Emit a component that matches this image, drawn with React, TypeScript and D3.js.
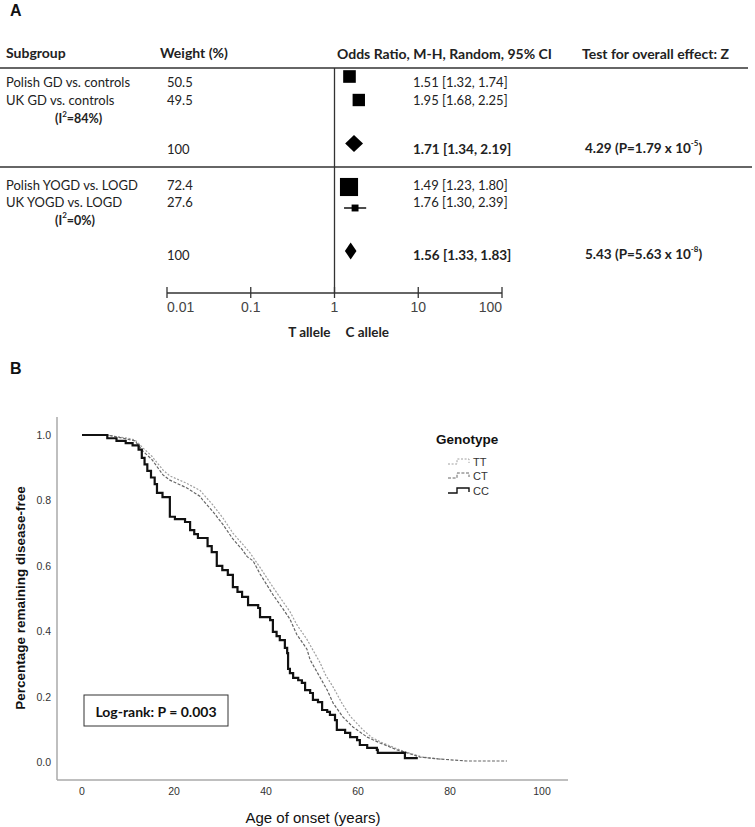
import React from "react";
import * as d3 from "d3";

// ---------- Panel A data ----------
const subgroups = ["Polish GD vs. controls", "UK GD vs. controls", "Polish YOGD vs. LOGD", "UK YOGD vs. LOGD"];
const weights = [50.5, 49.5, 72.4, 27.6];
const orValues = [1.51, 1.95, 1.49, 1.76];
const ciLow = [1.32, 1.68, 1.23, 1.3];
const ciHigh = [1.74, 2.25, 1.8, 2.39];
const groupOR = [1.71, 1.56];
const groupLow = [1.34, 1.33];
const groupHigh = [2.19, 1.83];
const groupI2 = ["84%", "0%"];
const groupZ = ["4.29", "5.43"];
const groupP = ["1.79", "5.63"];
const groupPexp = ["-5", "-8"];
const orTicks = [0.01, 0.1, 1, 10, 100];
const orTickLabels = ["0.01", "0.1", "1", "10", "100"];

// ---------- Panel B data (age, survival) ----------
const ccCurve: [number, number][] = [
  [0, 1.0], [5.5, 0.99], [7.5, 0.982], [9.5, 0.975], [11, 0.968], [12.3, 0.955], [13, 0.93], [13.6, 0.91],
  [14.2, 0.89], [15, 0.87], [15.8, 0.85], [16.3, 0.823], [17.5, 0.81], [19.1, 0.75], [20.2, 0.743], [22.4, 0.734],
  [23.5, 0.709], [24.4, 0.697], [25.2, 0.685], [27.3, 0.66], [28.2, 0.642], [29.3, 0.6], [30.5, 0.587], [31.7, 0.572],
  [32.8, 0.535], [33.8, 0.52], [34.8, 0.505], [36.1, 0.48], [38.3, 0.471], [38.7, 0.443], [40.9, 0.434], [41.5, 0.398],
  [42.3, 0.385], [43.0, 0.373], [44.1, 0.349], [44.6, 0.333], [44.8, 0.285], [45.2, 0.272], [45.9, 0.257], [47.0, 0.25],
  [47.8, 0.242], [48.5, 0.22], [49.6, 0.211], [50.2, 0.19], [51.3, 0.183], [52.2, 0.159], [53.3, 0.153], [53.9, 0.144],
  [55.0, 0.128], [55.4, 0.098], [57.2, 0.089], [58.3, 0.076], [59.8, 0.067], [60.4, 0.052], [62.0, 0.043], [64.1, 0.037],
  [64.3, 0.028], [70.2, 0.012], [73.0, 0.012],
];
const ttCurve: [number, number][] = [
  [0, 1.0], [5.4, 1.0], [8, 0.994], [10, 0.99], [11.5, 0.985], [13.3, 0.96], [15.2, 0.935], [17.6, 0.893], [19.1, 0.875],
  [22.8, 0.852], [25.7, 0.83], [28.5, 0.785], [30.7, 0.745], [32.8, 0.7], [34.8, 0.668], [36.5, 0.64], [38.7, 0.595],
  [41.5, 0.535], [43.7, 0.49], [45.2, 0.46], [46.7, 0.42], [48.9, 0.375], [50.5, 0.335], [51.7, 0.305], [53, 0.265],
  [54.6, 0.229], [56.5, 0.18], [58.3, 0.14], [61.1, 0.098], [63, 0.075], [65.4, 0.058], [69.1, 0.037], [71, 0.028],
  [74, 0.015], [78.5, 0.008],
];
const ctCurve: [number, number][] = [
  [0, 1.0], [5.4, 1.0], [9, 0.99], [11.5, 0.982], [13.3, 0.95], [15.2, 0.925], [17.6, 0.878], [19.1, 0.862], [22.8, 0.838],
  [25.7, 0.812], [26.3, 0.8], [28.5, 0.765], [30.7, 0.725], [32.8, 0.682], [34.8, 0.65], [35.9, 0.628], [37.2, 0.615],
  [38.7, 0.575], [41.5, 0.512], [43.7, 0.468], [45.2, 0.437], [46.7, 0.39], [48.9, 0.345], [49.6, 0.312], [51.7, 0.26],
  [53.3, 0.22], [54.6, 0.18], [56.7, 0.138], [58.9, 0.107], [62, 0.076], [64.8, 0.058], [68.5, 0.037], [70.7, 0.028],
  [73.5, 0.015], [77.8, 0.009], [83.7, 0.003], [92.4, 0.003],
];
const genotypes = ["TT", "CT", "CC"];
const ageTicks = [0, 20, 40, 60, 80, 100];
const survTicks = [0, 0.2, 0.4, 0.6, 0.8, 1.0];

const FA = "Lato, 'Open Sans', sans-serif";
const FB = "'Liberation Sans', Arial, sans-serif";

export default function App() {
  // Panel A scales
  const xOR = d3.scaleLog().domain([0.01, 100]).range([167, 502]);
  const studyY = [82, 100, 185, 202];
  const markY = [76.5, 100, 187, 208];
  const i2Y = [118.5, 220];
  const sumY = [149, 255];
  const diamondY = [143.5, 251];
  const sizeScale = d3.scaleLinear().domain([0, 100]).range([0, 25]);
  const axisY = 293;

  // Panel B scales
  const xAge = d3.scaleLinear().domain([0, 100]).range([82, 542]);
  const yS = d3.scaleLinear().domain([0, 1]).range([762, 435]);
  const step = d3.line<[number, number]>().x((d) => xAge(d[0])).y((d) => yS(d[1])).curve(d3.curveStepAfter);
  const smooth = d3.line<[number, number]>().x((d) => xAge(d[0])).y((d) => yS(d[1])).curve(d3.curveLinear);

  const styles: Record<string, { stroke: string; dash?: string; w: number }> = {
    TT: { stroke: "#a0a0a0", dash: "2,1.6", w: 1.2 },
    CT: { stroke: "#666", dash: "3,1.6", w: 1.2 },
    CC: { stroke: "#111", w: 2.2 },
  };
  const legendY = [462, 476, 491];

  const textA = { fontFamily: FA, fontSize: 13, fill: "#222" } as const;

  return (
    <svg width={755} height={827} style={{ position: "absolute", left: 0, top: 0, background: "#fff" }}>
      {/* ---------------- Panel A ---------------- */}
      <text x={10} y={16} fontFamily={FB} fontWeight="bold" fontSize={16} fill="#111">A</text>
      <g {...textA} fontSize={14} fontWeight="bold" dominantBaseline="central">
        <text x={6} y={52}>Subgroup</text>
        <text x={160} y={52}>Weight (%)</text>
        <text x={337} y={53}>Odds Ratio, M-H, Random, 95% CI</text>
        <text x={582} y={53}>Test for overall effect: Z</text>
      </g>
      <line x1={0} x2={748} y1={68} y2={68} stroke="#333" strokeWidth={1.3} />
      <line x1={0} x2={752} y1={167} y2={167} stroke="#333" strokeWidth={1.3} />
      <line x1={xOR(1)} x2={xOR(1)} y1={68} y2={axisY} stroke="#333" strokeWidth={1.3} />

      {subgroups.map((s, i) => (
        <g key={s} {...textA} dominantBaseline="central">
          <text x={6} y={studyY[i]}>{s}</text>
          <text x={167} y={studyY[i]}>{weights[i].toFixed(1)}</text>
          <text x={413} y={studyY[i]}>{`${orValues[i].toFixed(2)} [${ciLow[i].toFixed(2)}, ${ciHigh[i].toFixed(2)}]`}</text>
        </g>
      ))}
      {subgroups.map((s, i) => {
        const sz = sizeScale(weights[i]);
        return (
          <g key={"m" + s}>
            <line x1={xOR(ciLow[i])} x2={xOR(ciHigh[i])} y1={markY[i]} y2={markY[i]} stroke="#111" strokeWidth={1.5} />
            <rect x={xOR(orValues[i]) - sz / 2} y={markY[i] - sz / 2} width={sz} height={sz} fill="#000" />
          </g>
        );
      })}
      {groupOR.map((o, g) => {
        const cy = diamondY[g];
        const h = 8.5;
        const pts = [
          [xOR(groupLow[g]), cy],
          [xOR(o), cy - h],
          [xOR(groupHigh[g]), cy],
          [xOR(o), cy + h],
        ];
        return (
          <g key={"g" + g} {...textA}>
            <polygon points={pts.map((p) => p.join(",")).join(" ")} fill="#000" />
            <text x={55} y={i2Y[g]} fontSize={12.5} fontWeight="bold" dominantBaseline="central">
              (I<tspan fontSize={8} baselineShift="super">2</tspan>={groupI2[g]})
            </text>
            <text x={167} y={sumY[g]} dominantBaseline="central">100</text>
            <text x={413} y={sumY[g]} fontSize={13.5} fontWeight="bold" dominantBaseline="central">
              {`${o.toFixed(2)} [${groupLow[g].toFixed(2)}, ${groupHigh[g].toFixed(2)}]`}
            </text>
            <text x={585} y={sumY[g] - 1} fontSize={13.5} fontWeight="bold" dominantBaseline="central">
              {`${groupZ[g]} (P=${groupP[g]} x 10`}
              <tspan fontSize={8} baselineShift="super">{groupPexp[g]}</tspan>)
            </text>
          </g>
        );
      })}

      {/* OR axis */}
      <line x1={xOR(0.01)} x2={xOR(100)} y1={axisY} y2={axisY} stroke="#333" strokeWidth={1.3} />
      {orTicks.map((t, i) => (
        <g key={"t" + t}>
          <line x1={xOR(t)} x2={xOR(t)} y1={axisY - 6} y2={axisY + 5} stroke="#333" strokeWidth={1.3} />
          <text
            x={xOR(t)}
            y={307}
            fontFamily={FB}
            fontSize={14}
            fill="#444"
            dominantBaseline="central"
            textAnchor={i === 0 ? "start" : i === orTicks.length - 1 ? "end" : "middle"}
          >
            {orTickLabels[i]}
          </text>
        </g>
      ))}
      <text x={xOR(1) - 4} y={332} {...textA} fontSize={13.5} fontWeight="bold" textAnchor="end" dominantBaseline="central">T allele</text>
      <text x={xOR(1) + 11} y={332} {...textA} fontSize={13.5} fontWeight="bold" dominantBaseline="central">C allele</text>

      {/* ---------------- Panel B ---------------- */}
      <text x={10} y={374} fontFamily={FB} fontWeight="bold" fontSize={16} fill="#111">B</text>
      <line x1={57} x2={57} y1={417} y2={780} stroke="#aaa" strokeWidth={1.5} />
      <line x1={57} x2={568} y1={780} y2={780} stroke="#aaa" strokeWidth={1.5} />
      {survTicks.map((t) => (
        <text key={"s" + t} x={51} y={yS(t)} textAnchor="end" dominantBaseline="central" fontFamily={FB} fontSize={10.5} fill="#333">
          {t.toFixed(1)}
        </text>
      ))}
      {ageTicks.map((t) => (
        <text key={"a" + t} x={xAge(t)} y={791} textAnchor="middle" dominantBaseline="central" fontFamily={FB} fontSize={10.5} fill="#333">
          {t}
        </text>
      ))}
      <text x={313} y={817} textAnchor="middle" dominantBaseline="central" fontFamily={FB} fontSize={15} fill="#111">
        Age of onset (years)
      </text>
      <text
        transform="translate(20,598) rotate(-90)"
        textAnchor="middle"
        dominantBaseline="central"
        fontFamily={FB}
        fontWeight="bold"
        fontSize={13.5}
        fill="#111"
      >
        Percentage remaining disease-free
      </text>

      <path d={smooth(ttCurve) || ""} fill="none" stroke={styles.TT.stroke} strokeWidth={styles.TT.w} strokeDasharray={styles.TT.dash} />
      <path d={smooth(ctCurve) || ""} fill="none" stroke={styles.CT.stroke} strokeWidth={styles.CT.w} strokeDasharray={styles.CT.dash} />
      <path d={step(ccCurve) || ""} fill="none" stroke={styles.CC.stroke} strokeWidth={styles.CC.w} />

      {/* Legend */}
      <text x={436} y={439} fontFamily={FB} fontWeight="bold" fontSize={13.5} fill="#111" dominantBaseline="central">Genotype</text>
      {genotypes.map((g, i) => {
        const y = legendY[i];
        const st = styles[g];
        return (
          <g key={g}>
            <path
              d={`M448,${y + 2}H457V${y - 3}H469V${y + 1}`}
              fill="none"
              stroke={st.stroke}
              strokeWidth={g === "CC" ? 1.4 : 1}
              strokeDasharray={st.dash}
            />
            <text x={473} y={y} fontFamily={FB} fontSize={11} fill="#333" dominantBaseline="central">{g}</text>
          </g>
        );
      })}

      {/* Log-rank box */}
      <rect x={84} y={695} width={144} height={31} fill="#fff" stroke="#333" strokeWidth={1} />
      <text x={156} y={711} textAnchor="middle" dominantBaseline="central" fontFamily={FA} fontWeight="bold" fontSize={14} fill="#111">
        Log-rank: P = 0.003
      </text>
    </svg>
  );
}
